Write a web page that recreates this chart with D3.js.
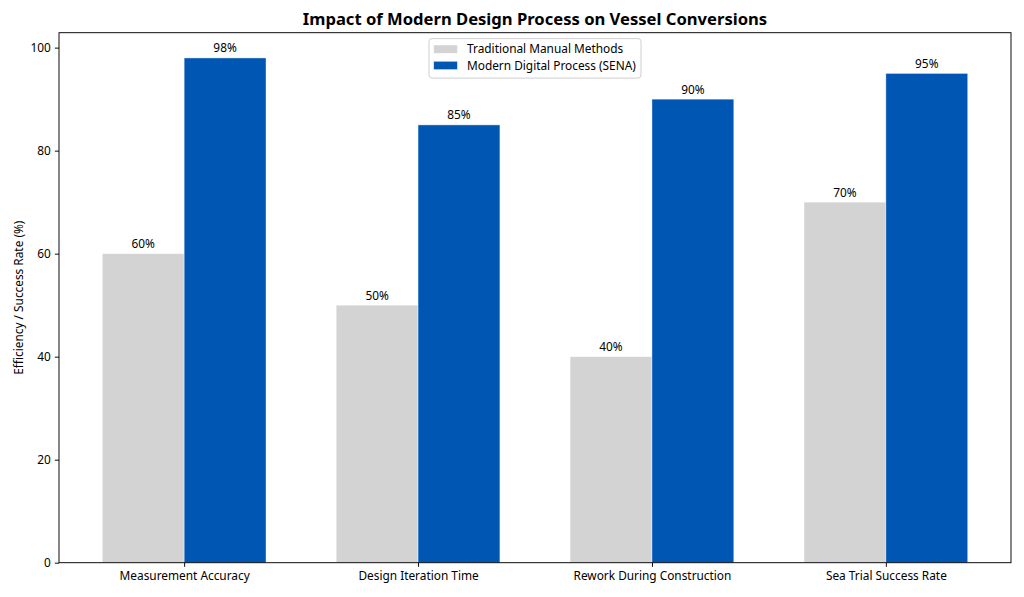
<!DOCTYPE html>
<html>
<head>
<meta charset="utf-8">
<script src="https://cdn.jsdelivr.net/npm/d3@7"></script>
<style>
  html, body { margin: 0; padding: 0; background: #fff; }
  svg { display: block; font-family: "Noto Sans", "Open Sans", sans-serif; }
</style>
</head>
<body>
<svg id="chart" width="1024" height="597"></svg>
<script>
const categories = ["Measurement Accuracy", "Design Iteration Time", "Rework During Construction", "Sea Trial Success Rate"];
const seriesNames = ["Traditional Manual Methods", "Modern Digital Process (SENA)"];
const traditionalValues = [60, 50, 40, 70];
const modernValues = [98, 85, 90, 95];
const yTicks = [0, 20, 40, 60, 80, 100];
const seriesColors = ["#d3d3d3", "#0056b3"];
const titleText = "Impact of Modern Design Process on Vessel Conversions";
const yLabelText = "Efficiency / Success Rate (%)";

const svg = d3.select("#chart");
const plot = { left: 59, right: 1011, top: 32.7, bottom: 562.7 };
const fs = 11.85;
const barW = 0.35;

const x = d3.scaleLinear()
  .domain([-0.535, categories.length - 1 + 0.535])
  .range([plot.left, plot.right]);
const yMax = d3.max(modernValues.concat(traditionalValues)) * 1.05;
const y = d3.scaleLinear().domain([0, yMax]).range([plot.bottom, plot.top]);

const series = [traditionalValues, modernValues];
const offsets = [-barW, 0];

// bars
series.forEach((vals, si) => {
  svg.append("g").selectAll("rect").data(vals).join("rect")
    .attr("x", (d, i) => x(i + offsets[si]))
    .attr("width", x(barW) - x(0))
    .attr("y", d => y(d))
    .attr("height", d => y(0) - y(d))
    .attr("fill", seriesColors[si])
    .attr("stroke", "#ffffff")
    .attr("stroke-opacity", 0.6)
    .attr("stroke-width", 0.7);
  svg.append("g").selectAll("text").data(vals).join("text")
    .attr("x", (d, i) => x(i + offsets[si] + barW / 2))
    .attr("y", d => y(d) - 5.6)
    .attr("text-anchor", "middle")
    .attr("font-size", fs)
    .attr("fill", "#000")
    .text(d => d + "%");
});

// axes
const xAxis = d3.axisBottom(x)
  .tickValues(categories.map((c, i) => i))
  .tickFormat(i => categories[i])
  .tickSize(4.15).tickPadding(4.15).tickSizeOuter(0);
const gx = svg.append("g").attr("transform", `translate(0,${plot.bottom})`).call(xAxis);
gx.select(".domain").remove();
gx.selectAll("text").attr("font-size", fs).attr("font-family", "Noto Sans").attr("fill", "#000").attr("dy", "0.74em");
gx.selectAll("line").attr("stroke", "#000").attr("stroke-width", 0.95);

const yAxis = d3.axisLeft(y).tickValues(yTicks).tickFormat(d3.format("d"))
  .tickSize(4.15).tickPadding(4.15).tickSizeOuter(0);
const gy = svg.append("g").attr("transform", `translate(${plot.left},0)`).call(yAxis);
gy.select(".domain").remove();
gy.selectAll("text").attr("font-size", fs).attr("font-family", "Noto Sans").attr("fill", "#000");
gy.selectAll("line").attr("stroke", "#000").attr("stroke-width", 0.95);

// spines
svg.append("rect")
  .attr("x", plot.left).attr("y", plot.top)
  .attr("width", plot.right - plot.left).attr("height", plot.bottom - plot.top)
  .attr("fill", "none").attr("stroke", "#000").attr("stroke-width", 0.95);

// title
svg.append("text")
  .attr("x", (plot.left + plot.right) / 2).attr("y", 25)
  .attr("text-anchor", "middle").attr("font-size", 16.6).attr("font-weight", "bold")
  .attr("fill", "#000").text(titleText);

// y label
svg.append("text")
  .attr("transform", `translate(23,${(plot.top + plot.bottom) / 2}) rotate(-90)`)
  .attr("text-anchor", "middle").attr("font-size", fs).attr("fill", "#000")
  .text(yLabelText);

// legend
const lg = svg.append("g");
const lx = 429, ly = 38.6, lw = 212, lh = 39.5;
lg.append("rect").attr("x", lx).attr("y", ly).attr("width", lw).attr("height", lh)
  .attr("rx", 3).attr("fill", "#fff").attr("fill-opacity", 0.8)
  .attr("stroke", "#cccccc").attr("stroke-width", 0.95);
seriesNames.forEach((name, i) => {
  const cy = ly + 10.5 + i * 16.3;
  lg.append("rect").attr("x", lx + 4.7).attr("y", cy - 4.1).attr("width", 23.7).attr("height", 8.3)
    .attr("fill", seriesColors[i]).attr("stroke", "#fff").attr("stroke-opacity", 0.6).attr("stroke-width", 0.7);
  lg.append("text").attr("x", lx + 38).attr("y", cy).attr("dy", "0.36em")
    .attr("font-size", fs).attr("fill", "#000").text(name);
});
</script>
</body>
</html>
